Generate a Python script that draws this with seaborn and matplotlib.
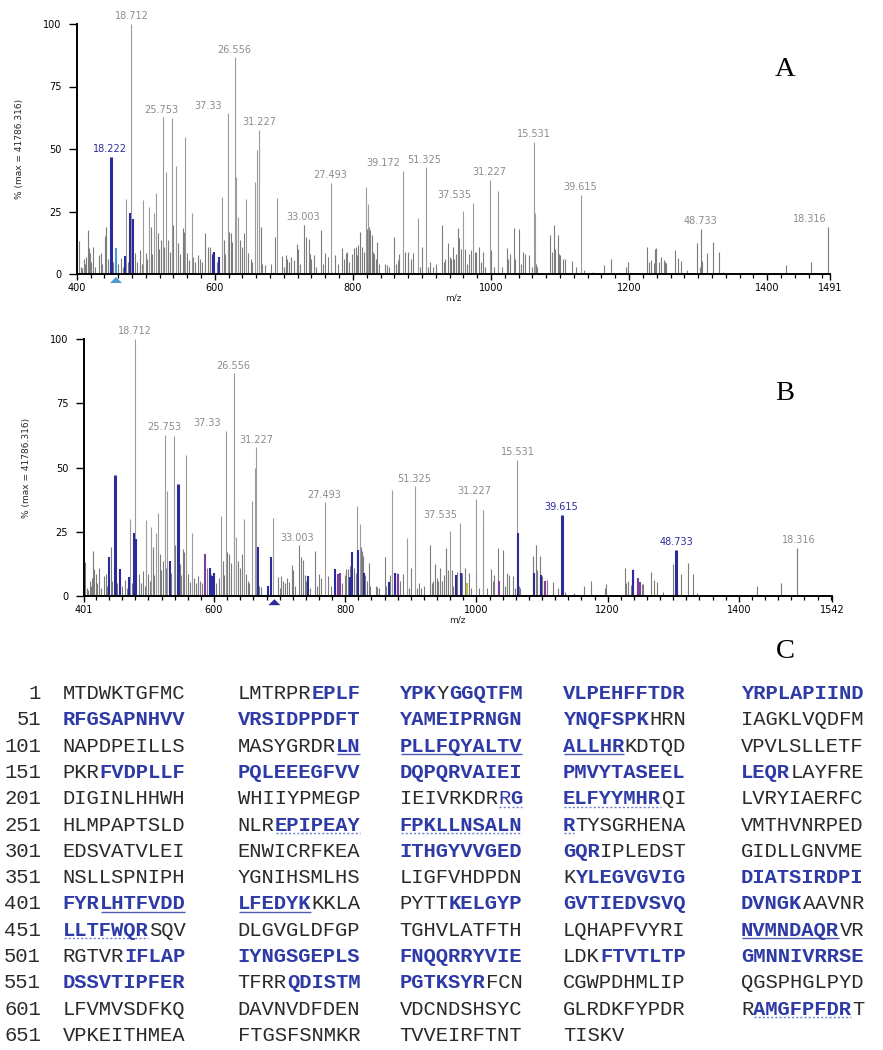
import matplotlib
matplotlib.use("Agg")
import matplotlib.pyplot as plt
from matplotlib.ticker import MultipleLocator
import numpy as np
import pandas as pd
import seaborn as sns

# ---------------- dados dos espectros (m/z, intensidade relativa %) ----------------
peak_mz = [
    403.9, 406.0, 407.2, 410.7, 412.2, 413.6, 416.0, 417.2, 419.5, 421.3, 424.3, 427.0,
    431.6, 435.0, 437.2, 440.4, 442.8, 445.0, 449.6, 452.2, 457.4, 460.3, 464.0, 467.0,
    469.6, 472.0, 475.0, 477.9, 479.3, 481.0, 485.0, 488.0, 491.5, 494.0, 496.4, 499.8,
    502.0, 504.6, 507.0, 509.0, 512.0, 514.4, 517.8, 519.5, 521.7, 525.0, 527.0, 529.0,
    532.8, 535.0, 538.7, 540.0, 544.5, 547.4, 550.0, 553.3, 554.8, 557.0, 560.0, 563.0,
    567.0, 569.0, 572.0, 575.0, 578.0, 581.0, 586.4, 589.8, 593.7, 595.8, 597.0, 599.5,
    603.0, 606.8, 610.5, 613.4, 615.5, 618.5, 620.4, 623.0, 625.6, 629.7, 631.0, 633.6,
    636.0, 639.5, 642.6, 645.0, 648.8, 652.0, 654.0, 658.0, 661.8, 664.7, 666.5, 669.0,
    672.0, 682.0, 686.5, 689.5, 696.8, 700.0, 702.6, 705.0, 708.0, 711.0, 714.0, 718.7,
    720.5, 724.0, 729.4, 732.0, 735.8, 738.0, 740.0, 743.0, 746.0, 754.0, 757.0, 759.6,
    763.5, 768.4, 773.7, 779.0, 784.4, 787.0, 789.5, 791.7, 795.0, 799.0, 801.5, 804.0,
    806.5, 807.8, 811.0, 813.6, 816.0, 818.5, 820.0, 821.9, 823.4, 825.0, 827.2, 828.5,
    830.5, 833.0, 835.5, 838.0, 846.7, 849.0, 852.0, 859.9, 862.0, 866.0, 867.5, 872.0,
    875.4, 879.3, 880.5, 884.0, 887.6, 894.0, 897.0, 900.2, 906.6, 909.0, 912.4, 916.0,
    920.0, 928.8, 932.0, 934.0, 937.5, 940.0, 942.0, 944.7, 947.0, 950.0, 952.9, 954.3,
    957.0, 960.0, 962.0, 965.0, 968.5, 971.0, 974.5, 976.5, 978.4, 982.2, 985.0, 988.0,
    991.3, 998.6, 999.5, 1004.0, 1009.6, 1010.6, 1016.0, 1022.6, 1025.0, 1027.4, 1032.7, 1034.5,
    1040.0, 1044.0, 1047.0, 1049.5, 1055.3, 1059.0, 1062.5, 1063.5, 1065.0, 1067.0, 1085.6, 1088.0,
    1091.3, 1093.0, 1097.0, 1098.4, 1100.0, 1104.0, 1107.2, 1116.8, 1123.6, 1129.8, 1135.0, 1148.0,
    1163.5, 1174.0, 1196.0, 1198.0, 1226.0, 1228.5, 1231.7, 1235.6, 1238.0, 1239.4, 1244.0, 1246.0,
    1250.0, 1252.4, 1253.8, 1266.8, 1270.2, 1275.5, 1283.7, 1299.0, 1302.0, 1304.3, 1306.3, 1312.5,
    1322.0, 1330.8, 1336.0, 1427.9, 1464.0, 1488.0,
]
peak_int = [
    13.3, 3.0, 2.4, 6.0, 4.0, 7.0, 17.7, 10.4, 8.4, 5.0, 11.0, 3.0,
    7.7, 8.4, 4.0, 15.3, 19.0, 6.0, 47.0, 5.0, 10.4, 4.0, 6.4, 3.0,
    7.3, 30.0, 5.0, 24.4, 100.0, 22.0, 8.4, 5.0, 9.7, 4.0, 29.7, 8.4,
    6.0, 27.0, 19.0, 8.0, 24.4, 32.4, 16.4, 10.0, 13.7, 62.7, 11.0, 41.0,
    13.7, 9.0, 62.3, 19.7, 43.4, 12.4, 8.0, 18.4, 17.0, 55.0, 8.4, 5.5,
    24.4, 7.0, 5.0, 7.7, 6.0, 5.0, 16.4, 11.0, 11.0, 8.4, 7.7, 9.0,
    5.0, 7.0, 31.0, 13.7, 8.0, 64.3, 17.0, 16.4, 13.0, 86.7, 39.0, 23.0,
    13.7, 11.0, 16.4, 30.0, 8.4, 6.0, 5.0, 37.0, 49.7, 57.8, 19.0, 4.0,
    3.5, 4.0, 15.0, 30.4, 7.3, 3.0, 7.7, 6.0, 5.0, 7.0, 5.5, 12.0,
    10.0, 4.0, 19.7, 15.0, 14.0, 8.0, 6.0, 7.7, 3.0, 17.7, 4.0, 8.4,
    7.0, 36.5, 7.7, 4.0, 10.6, 6.0, 8.5, 9.0, 5.0, 8.0, 10.4, 10.7,
    7.5, 11.7, 17.0, 10.8, 9.0, 35.0, 18.0, 28.0, 19.0, 17.7, 15.7, 9.0,
    8.0, 6.0, 13.0, 4.0, 4.0, 3.5, 3.0, 15.0, 4.0, 5.5, 8.0, 41.4,
    9.0, 8.8, 8.5, 6.0, 8.4, 22.4, 3.0, 11.0, 42.7, 3.0, 5.0, 3.0,
    4.0, 19.7, 5.0, 6.0, 12.4, 7.0, 6.0, 11.0, 6.0, 8.0, 18.6, 14.4,
    10.0, 25.4, 10.0, 4.0, 8.0, 9.5, 28.4, 9.0, 9.0, 11.0, 5.0, 9.0,
    3.0, 37.7, 9.7, 3.0, 33.3, 26.6, 3.0, 10.6, 6.0, 8.0, 18.6, 6.0,
    18.0, 4.0, 8.8, 8.0, 7.7, 3.0, 53.0, 24.4, 4.0, 3.0, 15.7, 9.0,
    19.7, 10.0, 15.6, 8.0, 7.7, 6.0, 6.2, 5.3, 3.0, 31.7, 1.5, 1.0,
    3.7, 5.9, 3.0, 4.7, 11.0, 5.0, 5.7, 4.4, 10.0, 10.4, 5.0, 7.0,
    5.5, 4.8, 4.6, 9.5, 6.4, 5.3, 1.5, 12.6, 3.0, 18.0, 5.3, 8.4,
    12.7, 8.7, 1.0, 3.7, 4.9, 18.8,
]

# picos destacados em cada painel
blue_a = [449.6, 469.6, 477.9, 481.0, 597.0, 599.5, 606.8]
lightblue_a = [457.4]
thick_a = [449.6]
blue_b = [440.4, 449.6, 457.4, 469.6, 477.9, 481.0, 532.8, 544.5, 593.7, 597.0, 599.5,
          666.5, 682.0, 686.5, 743.0, 784.4, 806.5, 811.0, 820.0, 828.5, 866.0, 875.4,
          968.5, 976.5, 1063.5, 1088.0, 1098.4, 1129.8, 1238.0, 1304.3, 1306.3]
purple_b = [586.4, 789.5, 791.7, 880.5, 1034.5, 1104.0, 1246.0, 1250.0]
yellow_b = [985.0]
thick_b = [449.6, 544.5, 1129.8, 1304.3]

precursor_a = 457.0
precursor_b = 692.0

ticks_a = [400, 600, 800, 1000, 1200, 1400, 1491]
ticks_b = [401, 600, 800, 1000, 1200, 1400, 1542]

labels_a = ["18.222", "18.712", "25.753", "37.33", "26.556", "31.227", "33.003", "27.493",
            "39.172", "51.325", "37.535", "31.227", "15.531", "39.615", "48.733", "18.316"]
labels_a_mz = [449.6, 479.3, 525.0, 618.5, 629.7, 664.7, 729.4, 768.4,
               872.0, 906.6, 974.5, 998.6, 1062.5, 1129.8, 1304.3, 1488.0]
labels_a_shift = [-1, 0, -3, -28, -1, 0, -2, -1, -28, -3, -27, -1, 0, 0, -1, -27]
labels_b = ["18.712", "25.753", "37.33", "26.556", "31.227", "33.003", "27.493", "51.325",
            "37.535", "31.227", "15.531", "39.615", "48.733", "18.316"]
labels_b_mz = [479.3, 525.0, 618.5, 629.7, 664.7, 729.4, 768.4, 906.6,
               974.5, 998.6, 1062.5, 1129.8, 1304.3, 1488.0]
labels_b_shift = [0, -1, -29, -1, -1, -2, 0, -2, -30, -2, 0, 0, 1, 3]
blue_labels_a = ["18.222"]
blue_labels_b = ["39.615", "48.733"]

# ---------------- sequencia (painel C) ----------------
# [..] negrito azul, {..} negrito azul sublinhado, <..> negrito azul pontilhado, (..) azul pontilhado
seq_starts = [1, 51, 101, 151, 201, 251, 301, 351, 401, 451, 501, 551, 601, 651]
seq_blocks = [
    ["MTDWKTGFMC", "LMTRPR[EPLF]", "[YPK]Y[GGQTFM]", "[VLPEHFFTDR]", "[YRPLAPIIND]"],
    ["[RFGSAPNHVV]", "[VRSIDPPDFT]", "[YAMEIPRNGN]", "[YNQFSPK]HRN", "IAGKLVQDFM"],
    ["NAPDPEILLS", "MASYGRDR{LN}", "{PLLFQYALTV}", "{ALLHR}KDTQD", "VPVLSLLETF"],
    ["PKR[FVDPLLF]", "[PQLEEEGFVV]", "[DQPQRVAIEI]", "[PMVYTASEEL]", "[LEQR]LAYFRE"],
    ["DIGINLHHWH", "WHIIYPMEGP", "IEIVRKDR(R)<G>", "<ELFYYMHR>QI", "LVRYIAERFC"],
    ["HLMPAPTSLD", "NLR<EPIPEAY>", "<FPKLLNSALN>", "<R>TYSGRHENA", "VMTHVNRPED"],
    ["EDSVATVLEI", "ENWICRFKEA", "[ITHGYVVGED]", "[GQR]IPLEDST", "GIDLLGNVME"],
    ["NSLLSPNIPH", "YGNIHSMLHS", "LIGFVHDPDN", "K[YLEGVGVIG]", "[DIATSIRDPI]"],
    ["[FYR]{LHTFVDD}", "{LFEDYK}KKLA", "PYTT[KELGYP]", "[GVTIEDVSVQ]", "[DVNGK]AAVNR"],
    ["<LLTFWQR>SQV", "DLGVGLDFGP", "TGHVLATFTH", "LQHAPFVYRI", "{NVMNDAQR}VR"],
    ["RGTVR[IFLAP]", "[IYNGSGEPLS]", "[FNQQRRYVIE]", "LDK[FTVTLTP]", "[GMNNIVRRSE]"],
    ["[DSSVTIPFER]", "TFRR[QDISTM]", "[PGTKSYR]FCN", "CGWPDHMLIP", "QGSPHGLPYD"],
    ["LFVMVSDFKQ", "DAVNVDFDEN", "VDCNDSHSYC", "GLRDKFYPDR", "R<AMGFPFDR>T"],
    ["VPKEITHMEA", "FTGSFSNMKR", "TVVEIRFTNT", "TISKV"],
]

GREY_TALL = "#9c9c9c"
GREY_LOW = "#7c7c7c"
BLUE = "#2b2b9e"
LIGHTBLUE = "#4b9ad8"
PURPLE = "#7d3f9f"
YELLOW = "#b9b94c"
LABEL_GREY = "#8c8c8c"
SEQ_BLUE = "#2e3ba6"
SEQ_BLACK = "#2a2a2a"

sns.set_theme(style="ticks")
plt.rcParams["font.family"] = ["DejaVu Sans"]
plt.rcParams["axes.edgecolor"] = "black"


def peak_table(blue, light, purple, yellow, thick):
    df = pd.DataFrame({"mz": peak_mz, "intensity": peak_int})
    key = df["mz"].round(1)
    df["color"] = np.where(df["intensity"] < 20, GREY_LOW, GREY_TALL)
    grey = df["color"].copy()
    df.loc[key.isin(np.round(blue, 1)), "color"] = BLUE
    df.loc[key.isin(np.round(light, 1)), "color"] = LIGHTBLUE
    df.loc[key.isin(np.round(purple, 1)), "color"] = PURPLE
    df.loc[key.isin(np.round(yellow, 1)), "color"] = YELLOW
    df["order"] = (df["color"] != grey).astype(int)
    df["lw"] = np.where(df["order"] == 0, 0.8, 1.5)
    df.loc[key.isin(np.round(thick, 1)), "lw"] = 2.2
    return df.sort_values("order")


def draw_spectrum(ax, df, ticks, labels, labels_mz, shifts, blue_labels, precursor, tri_color):
    ax.vlines(df["mz"], 0, df["intensity"], colors=df["color"], linewidths=df["lw"])
    height = dict(zip(np.round(peak_mz, 1), peak_int))
    for txt, mz, dx in zip(labels, labels_mz, shifts):
        col = BLUE if txt in blue_labels else LABEL_GREY
        ax.annotate(txt, (mz + dx, height[round(mz, 1)]), xytext=(0, 5.5),
                    textcoords="offset points", ha="center", va="center",
                    fontsize=7, color=col)
    tri = [(-1, -0.5), (1, -0.5), (0, 0.5), (-1, -0.5)]
    sns.scatterplot(x=[precursor], y=[-2.4], marker=tri, s=75, color=tri_color,
                    edgecolor="none", ax=ax, clip_on=False, zorder=5, legend=False)
    ax.set_xlim(ticks[0], ticks[-1])
    ax.set_ylim(0, 100)
    sns.despine(ax=ax)
    for s in ("left", "bottom"):
        ax.spines[s].set_linewidth(1.4)
        ax.spines[s].set_color("black")
    ax.set_xticks(ticks)
    ax.set_xticklabels([str(t) for t in ticks])
    ax.xaxis.set_minor_locator(MultipleLocator(20))
    ax.set_yticks([0, 25, 50, 75, 100])
    ax.tick_params(axis="x", which="major", length=4.5, width=1.0, labelsize=7, pad=2,
                   colors="black")
    ax.tick_params(axis="x", which="minor", length=3, width=0.9, color="black")
    ax.tick_params(axis="y", length=6, width=1.0, labelsize=7, pad=5, colors="black")
    ax.set_xlabel("m/z", fontsize=6.5, labelpad=0)
    ax.set_ylabel("% (max = 41786.316)", fontsize=6.5)
    ax.set_facecolor("none")
    ax.grid(False)


fig = plt.figure(figsize=(8.83, 10.5), dpi=100)
W, H = 883.0, 1050.0

ax_a = fig.add_axes([76.7 / W, 1 - 274 / H, (830 - 76.7) / W, (274 - 24) / H])
draw_spectrum(ax_a, peak_table(blue_a, lightblue_a, [], [], thick_a), ticks_a,
              labels_a, labels_a_mz, labels_a_shift, blue_labels_a, precursor_a, LIGHTBLUE)
ax_a.yaxis.set_label_coords((24 - 76.7) / (830 - 76.7), 0.5)

ax_b = fig.add_axes([83.5 / W, 1 - 596 / H, (832 - 83.5) / W, (596 - 339) / H])
draw_spectrum(ax_b, peak_table(blue_b, [], purple_b, yellow_b, thick_b), ticks_b,
              labels_b, labels_b_mz, labels_b_shift, blue_labels_b, precursor_b, BLUE)
ax_b.yaxis.set_label_coords((31 - 83.5) / (832 - 83.5), 0.5)

# camada de texto em coordenadas de pixel
axc = fig.add_axes([0, 0, 1, 1])
axc.set_xlim(0, W)
axc.set_ylim(H, 0)
axc.axis("off")

for letter, (lx, ly) in zip("ABC", [(785.5, 69.5), (785, 393), (785, 651)]):
    axc.text(lx, ly, letter, fontsize=20.5, family="Liberation Serif",
             ha="center", va="center", color="black")

SEQ_X = [62.5, 237.5, 399.5, 563.0, 741.0]
NUM_X = 41.0
ROW0 = 699.0
ROW_STEP = 26.31
FS = 14.8
CW = FS * 0.6 * 100 / 72
OPEN = {"[": "b", "{": "u", "<": "d", "(": "r"}


def segments(block):
    segs, style, buf, pos, start = [], "n", "", 0, 0
    for ch in block:
        if ch in OPEN or ch in "]}>)":
            if buf:
                segs.append((buf, style, start))
            buf = ""
            style = OPEN.get(ch, "n")
        else:
            if not buf:
                start = pos
            buf += ch
            pos += 1
    if buf:
        segs.append((buf, style, start))
    return segs


for r, (num, blocks) in enumerate(zip(seq_starts, seq_blocks)):
    base = ROW0 + r * ROW_STEP
    axc.text(NUM_X, base, str(num), family="Liberation Mono", fontsize=FS,
             ha="right", va="baseline", color=SEQ_BLACK)
    for bx, block in zip(SEQ_X, blocks):
        for txt, style, start in segments(block):
            x0 = bx + start * CW
            axc.text(x0, base, txt, family="Liberation Mono", fontsize=FS,
                     fontweight="normal" if style in ("n", "r") else "bold",
                     color=SEQ_BLACK if style == "n" else SEQ_BLUE,
                     ha="left", va="baseline")
            if style == "u":
                axc.plot([x0 + 1, x0 + len(txt) * CW - 1], [base + 2.5] * 2,
                         color="#4d5bb5", lw=1.0, solid_capstyle="butt")
            elif style in ("d", "r"):
                axc.plot([x0 + 1, x0 + len(txt) * CW - 1], [base + 2.5] * 2,
                         color="#6f7fd0", lw=1.0, linestyle=(0, (1.5, 1.5)))

fig.savefig("out.png", dpi=100)
print("figura salva como out.png")
